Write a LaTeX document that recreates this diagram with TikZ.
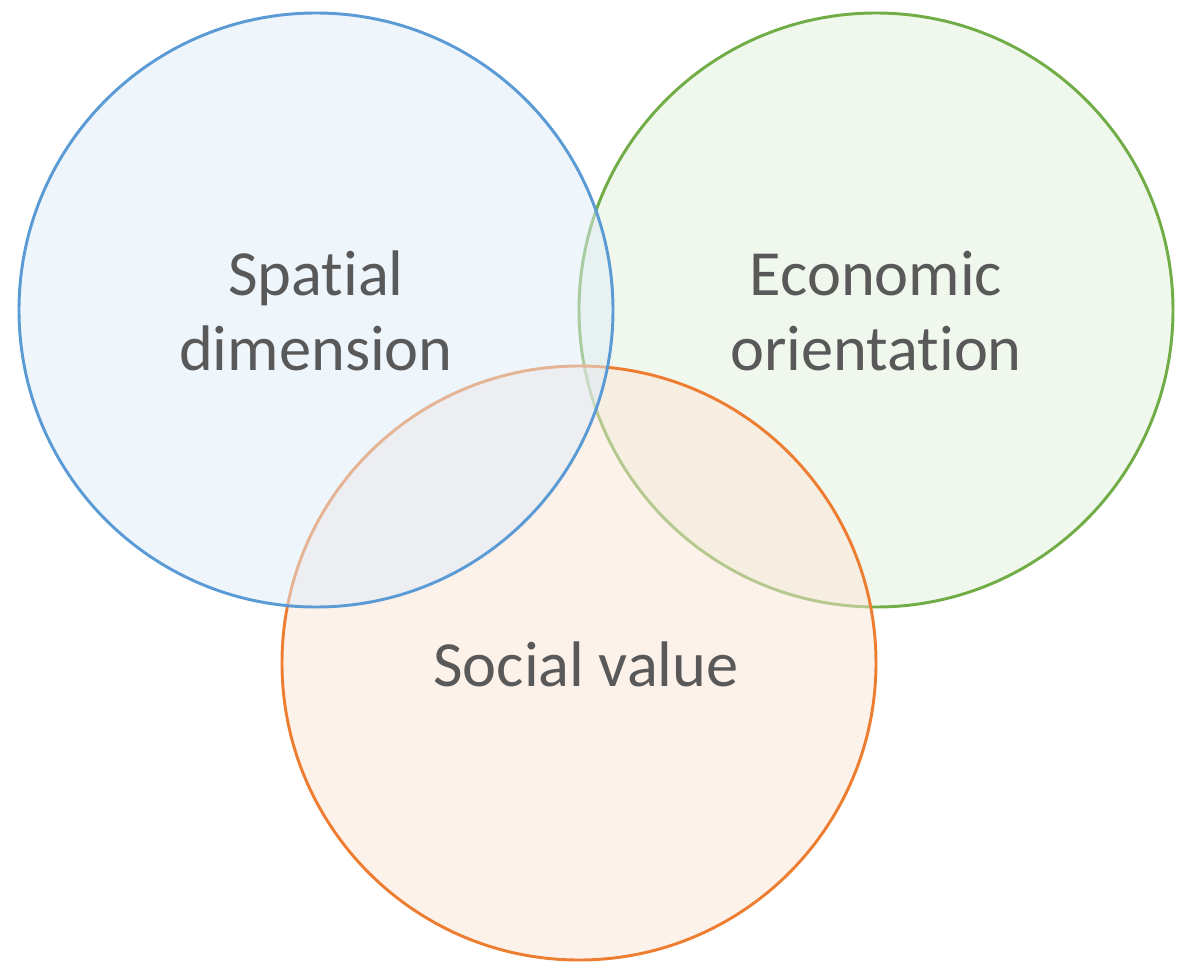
\documentclass[tikz,border=0pt]{standalone}
\usepackage{fontspec}
\setmainfont{Carlito}[RawFeature=-liga]
\usepackage{tikz}

\definecolor{spatialline}{HTML}{5B9BD5}
\definecolor{spatialfill}{HTML}{DEEBF7}
\definecolor{econline}{HTML}{70AD47}
\definecolor{econfill}{HTML}{E2F0D9}
\definecolor{socialline}{HTML}{ED7D31}
\definecolor{socialfill}{HTML}{FBE5D6}
\definecolor{labeltext}{HTML}{595959}

\tikzset{
  venn/.style={line width=2.2pt, fill opacity=0.5},
  venntext/.style={text=labeltext, align=center, font=\fontsize{48.3}{56}\selectfont}
}

\begin{document}
\begin{tikzpicture}[x=0.75pt, y=-0.75pt]
  \useasboundingbox (0, 0) rectangle (1179, 965);
  % circles, green first, blue last
  \draw[venn, draw=econline, fill=econfill] (876, 310) circle [radius=297];
  \draw[venn, draw=socialline, fill=socialfill] (579, 663) circle [radius=297];
  \draw[venn, draw=spatialline, fill=spatialfill] (316, 310) circle [radius=297];
  % labels
  \node[venntext] (spatial) at (316, 311) {Spatial\\dimension};
  \node[venntext] (economic) at (876, 311) {Economic\\orientation};
  \node[venntext] (social) at (586, 664) {Social value};
\end{tikzpicture}
\end{document}
